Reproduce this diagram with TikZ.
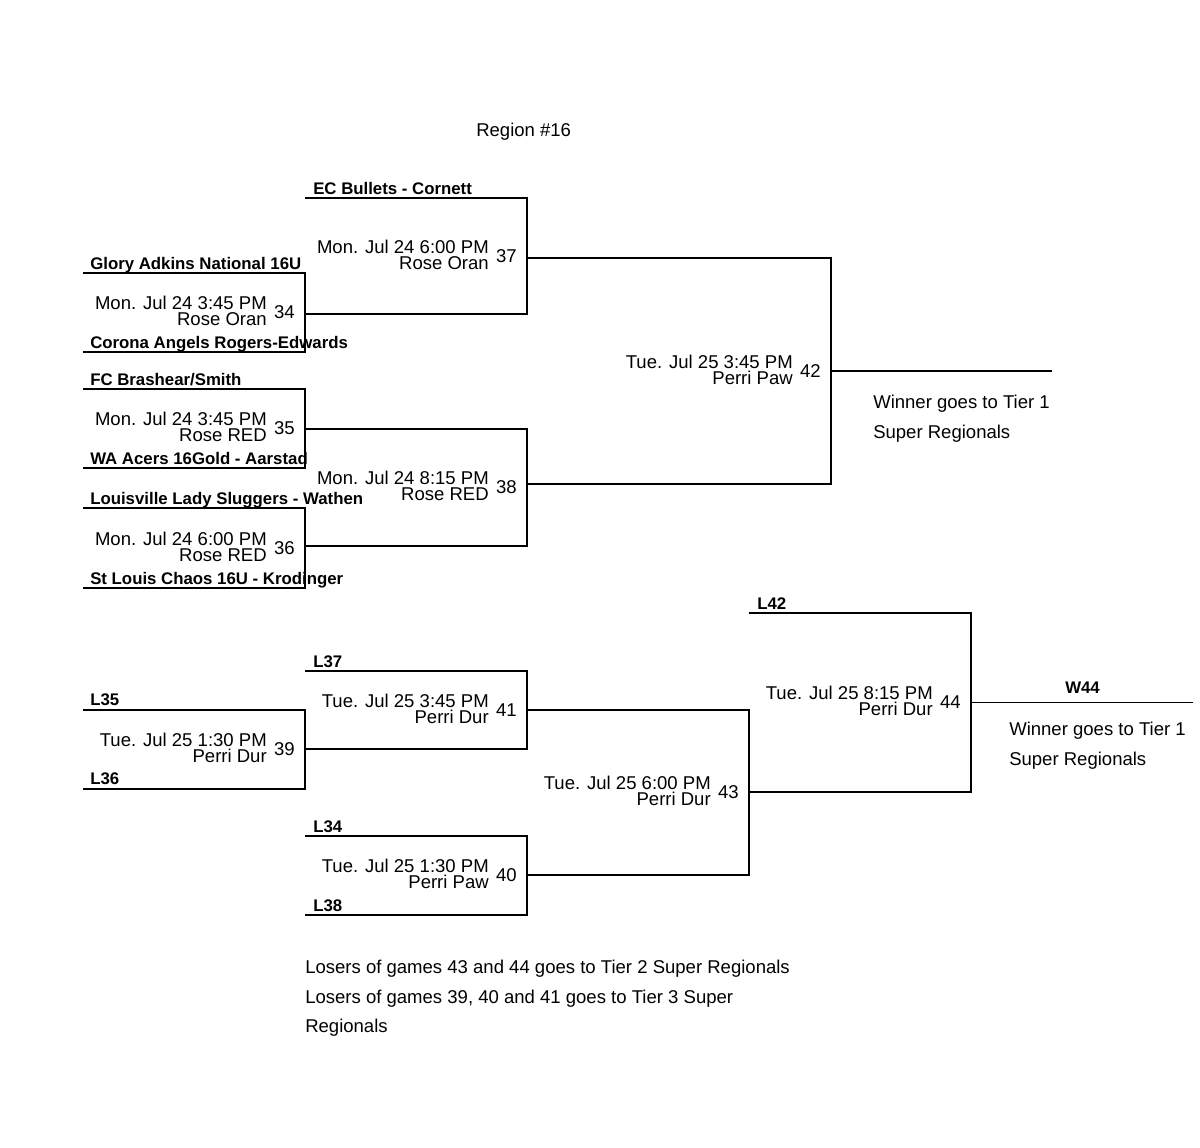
\documentclass[tikz,border=0pt]{standalone}
\usepackage{fontspec}
\setmainfont{Liberation Sans}
\usetikzlibrary{calc}
\begin{document}
\begin{tikzpicture}[x=0.75pt,y=-0.75pt,
  ln/.style={line width=0.9pt},
  tx/.style={inner sep=0pt,font=\fontsize{13.9}{15}\selectfont},
  team/.style={tx,anchor=base west,font=\fontsize{12.6}{14}\selectfont\bfseries},
  info/.style={tx,anchor=base east},
  note/.style={tx,anchor=base west}]
\useasboundingbox (0,0) rectangle (1200,1147);
\newcommand{\bgame}[8]{%
  \coordinate (#8t) at (#1,#3); \coordinate (#8b) at (#1,#4);
  \coordinate (#8tr) at (#2,#3); \coordinate (#8br) at (#2,#4);
  \draw[ln] (#8t) -- (#8tr) -- (#8br) -- (#8b);
  \path (#2,{(#3+#4)/2}) coordinate (#8c);
  \node[info] (#8d) at ($(#8c)+(-38,-3)$) {#6};
  \node[info] (#8v) at ($(#8c)+(-38,13)$) {#7};
  \node[info] (#8n) at ($(#8c)+(-10,6)$) {#5};
}
\bgame{83}{305}{273}{352}{34}{Mon. Jul 24 3:45 PM}{Rose Oran}{g34}
\bgame{305}{527}{198}{314}{37}{Mon. Jul 24 6:00 PM}{Rose Oran}{g37}
\bgame{83}{305}{389}{468}{35}{Mon. Jul 24 3:45 PM}{Rose RED}{g35}
\bgame{83}{305}{508}{588}{36}{Mon. Jul 24 6:00 PM}{Rose RED}{g36}
\bgame{305}{527}{429}{546}{38}{Mon. Jul 24 8:15 PM}{Rose RED}{g38}
\bgame{527}{831}{258}{484}{42}{Tue. Jul 25 3:45 PM}{Perri Paw}{g42}
\bgame{83}{305}{710}{789}{39}{Tue. Jul 25 1:30 PM}{Perri Dur}{g39}
\bgame{305}{527}{671}{749}{41}{Tue. Jul 25 3:45 PM}{Perri Dur}{g41}
\bgame{305}{527}{836}{915}{40}{Tue. Jul 25 1:30 PM}{Perri Paw}{g40}
\bgame{527}{749}{710}{875}{43}{Tue. Jul 25 6:00 PM}{Perri Dur}{g43}
\bgame{749}{971}{613}{792}{44}{Tue. Jul 25 8:15 PM}{Perri Dur}{g44}
\coordinate (o42) at (1052,371); \coordinate (o44) at (1193,702.5);
\draw[ln] (g42c) -- (o42);
\draw[ln] (g44c) -- (o44);
\node[team] (a1) at (313,194) {EC Bullets - Cornett};
\node[team] (a2) at (90,269) {Glory Adkins National 16U};
\node[team] (a3) at (90,348) {Corona Angels Rogers-Edwards};
\node[team] (a4) at (90,385) {FC Brashear/Smith};
\node[team] (a5) at (90,464) {WA Acers 16Gold - Aarstad};
\node[team] (a6) at (90,504) {Louisville Lady Sluggers - Wathen};
\node[team] (a7) at (90,584) {St Louis Chaos 16U - Krodinger};
\node[team] (b1) at (757,609) {L42};
\node[team] (b2) at (313,667) {L37};
\node[team] (b3) at (90,705) {L35};
\node[team] (b4) at (90,784) {L36};
\node[team] (b5) at (313,832) {L34};
\node[team] (b6) at (313,911) {L38};
\node[team] (b7) at (1065,693) {W44};
\node[note] (r) at (476,136) {Region \#16};
\node[note] (w1) at (873,408) {Winner goes to Tier 1};
\node[note] (w2) at (873,438) {Super Regionals};
\node[note] (w3) at (1009,735) {Winner goes to Tier 1};
\node[note] (w4) at (1009,765) {Super Regionals};
\node[note] (f1) at (305,973) {Losers of games 43 and 44 goes to Tier 2 Super Regionals};
\node[note] (f2) at (305,1003) {Losers of games 39, 40 and 41 goes to Tier 3 Super};
\node[note] (f3) at (305,1032) {Regionals};
\end{tikzpicture}
\end{document}
